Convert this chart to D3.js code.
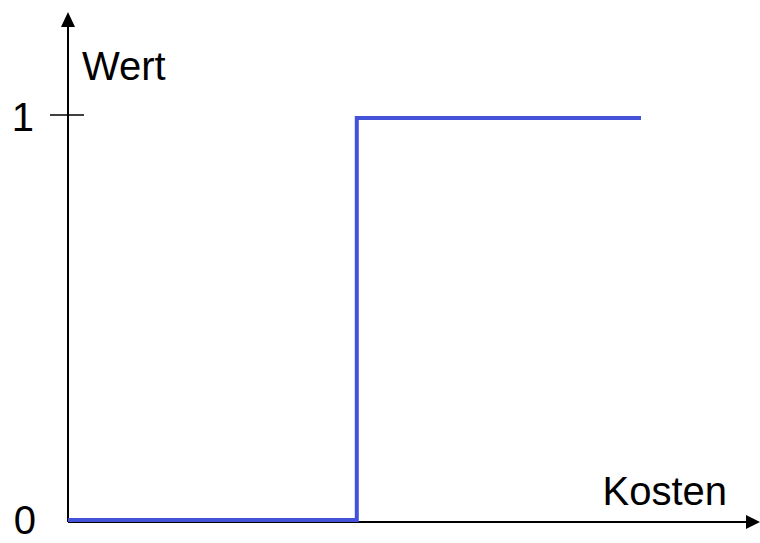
<!DOCTYPE html>
<html>
<head>
<meta charset="utf-8">
<script src="https://cdn.jsdelivr.net/npm/d3@7"></script>
<style>
  body { margin: 0; background: #fff; }
  text { font-family: "Liberation Sans", Arial, sans-serif; }
</style>
</head>
<body>
<div id="chart"></div>
<script>
// step function: Wert over Kosten
const kosten = [0, 0.504, 0.504, 1];
const wert = [0, 0, 1, 1];
const yTicks = [0, 1];
const xLabel = "Kosten", yLabel = "Wert";

const W = 760, H = 543;

const svg = d3.select("#chart")
    .append("svg")
        .attr("width", W)
        .attr("height", H);

const x = d3.scaleLinear().domain([0, 1]).range([68, 641]);
const y = d3.scaleLinear().domain([0, 1]).range([520, 118]);

// axes
const axisY = y(0) + 2;
svg.append("line")
    .attr("x1", x(0)).attr("x2", 750)
    .attr("y1", axisY).attr("y2", axisY)
    .attr("stroke", "#000").attr("stroke-width", 2);
svg.append("path")
    .attr("d", "M760," + axisY + " L746," + (axisY - 7) + " L746," + (axisY + 7) + " Z")
    .attr("fill", "#000");

svg.append("line")
    .attr("x1", x(0)).attr("x2", x(0))
    .attr("y1", axisY).attr("y2", 22)
    .attr("stroke", "#000").attr("stroke-width", 2);
svg.append("path")
    .attr("d", "M" + x(0) + ",12 L" + (x(0) - 7) + ",27 L" + (x(0) + 7) + ",27 Z")
    .attr("fill", "#000");

// tick at 1
svg.append("line")
    .attr("x1", 50).attr("x2", 84)
    .attr("y1", y(1) - 3).attr("y2", y(1) - 3)
    .attr("stroke", "#000").attr("stroke-width", 1.5);

// tick labels
svg.selectAll(".ylab")
    .data(yTicks)
    .join("text")
    .attr("class", "ylab")
    .attr("x", d => d == 1 ? 34 : 36)
    .attr("y", d => d == 1 ? 131 : 534)
    .attr("text-anchor", "end")
    .style("font-size", "40px")
    .text(d => d);

svg.append("text")
    .attr("x", 82).attr("y", 80)
    .style("font-size", "40px")
    .text(yLabel);
svg.append("text")
    .attr("x", 727).attr("y", 505)
    .attr("text-anchor", "end")
    .style("font-size", "40px")
    .text(xLabel);

// the step line
const line = d3.line()
    .x((d, i) => x(kosten[i]))
    .y((d, i) => y(wert[i]));
svg.append("path")
    .datum(kosten)
    .attr("d", line)
    .attr("fill", "none")
    .attr("stroke", "#4451d9")
    .attr("stroke-width", 4)
    .attr("stroke-linejoin", "miter");
</script>
</body>
</html>
